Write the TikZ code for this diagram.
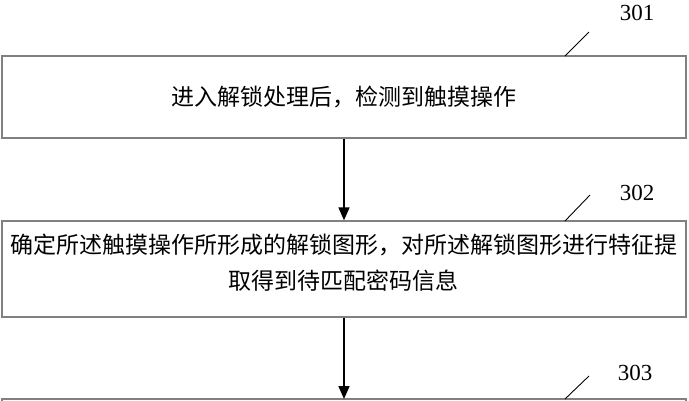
\documentclass[tikz,border=0pt]{standalone}
\usepackage{fontspec}
\setmainfont{Liberation Serif}
\newfontfamily\cjk{Noto Sans CJK SC}
\usetikzlibrary{arrows.meta}
\begin{document}
\begin{tikzpicture}[x=1pt,y=-1pt,
  stepbox/.style={draw=black!50,line width=1.3pt,inner sep=0pt},
  flow/.style={draw=black,line width=1.6pt,-{Triangle[length=13pt,width=11pt]}},
  leader/.style={draw=black,line width=0.9pt},
  lab/.style={font=\fontsize{23}{26}\selectfont,inner sep=0pt}]
\useasboundingbox (0,0) rectangle (689,400);
\node[stepbox,minimum width=684pt,minimum height=82pt,font=\cjk\fontsize{23}{26}\selectfont] (b1) at (344,97)
  {进入解锁处理后，检测到触摸操作};
\node[stepbox,minimum width=684pt,minimum height=96pt,align=center,font=\cjk\fontsize{23}{36}\selectfont] (b2) at (344,269)
  {确定所述触摸操作所形成的解锁图形，对所述解锁图形进行特征提\\取得到待匹配密码信息\rule[-14pt]{0pt}{1pt}};
\draw[stepbox] (2,420) -- (2,399) -- (686,399) -- (686,420);
\coordinate (b3) at (344,399);
\draw[flow] (b1.south) -- (b2.north);
\draw[flow] (b2.south) -- (b3);
\node[lab] (l1) at (637,13) {301};
\node[lab] (l2) at (637,193) {302};
\node[lab] (l3) at (635,373) {303};
\coordinate (t1) at (565,56);
\coordinate (t2) at (565,221);
\coordinate (t3) at (565,399);
\draw[leader] (t1) -- (589,32);
\draw[leader] (t2) -- (590,195);
\draw[leader] (t3) -- (589,376);
\end{tikzpicture}
\end{document}
